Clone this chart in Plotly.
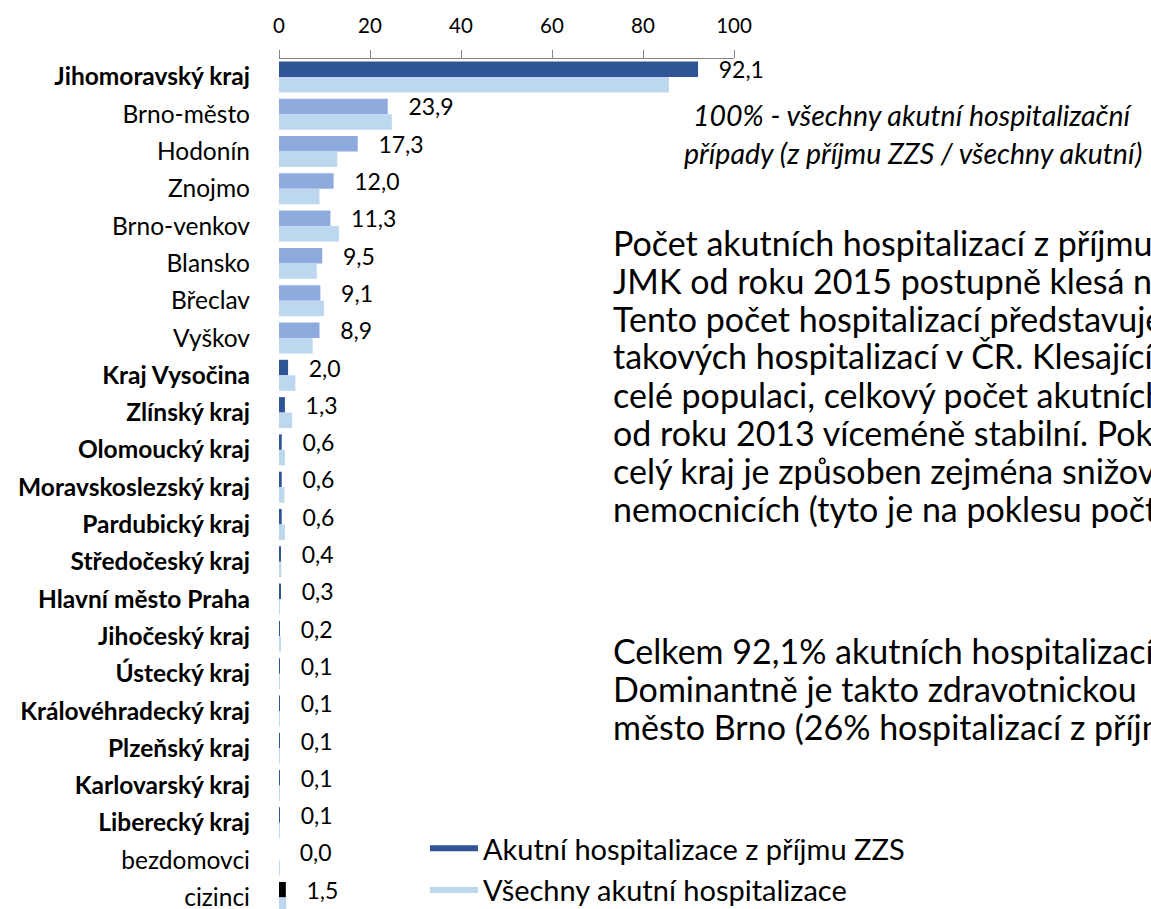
import plotly.graph_objects as go

# Regions / districts (top to bottom)
categories = [
    "Jihomoravský kraj", "Brno-město", "Hodonín", "Znojmo", "Brno-venkov",
    "Blansko", "Břeclav", "Vyškov", "Kraj Vysočina", "Zlínský kraj",
    "Olomoucký kraj", "Moravskoslezský kraj", "Pardubický kraj",
    "Středočeský kraj", "Hlavní město Praha", "Jihočeský kraj",
    "Ústecký kraj", "Královéhradecký kraj", "Plzeňský kraj",
    "Karlovarský kraj", "Liberecký kraj", "bezdomovci", "cizinci",
]
# group: "kraj" = region (bold), "okres" = JMK district, "other" = other groups
groups = [
    "kraj", "okres", "okres", "okres", "okres", "okres", "okres", "okres",
    "kraj", "kraj", "kraj", "kraj", "kraj", "kraj", "kraj", "kraj",
    "kraj", "kraj", "kraj", "kraj", "kraj", "other", "foreign",
]
# % of acute hospitalisations admitted via emergency medical service (ZZS)
zzs_values = [92.1, 23.9, 17.3, 12.0, 11.3, 9.5, 9.1, 8.9, 2.0, 1.3,
              0.6, 0.6, 0.6, 0.4, 0.3, 0.2, 0.1, 0.1, 0.1, 0.1, 0.1, 0.0, 1.5]
# % of all acute hospitalisations
all_values = [85.7, 24.8, 12.8, 8.9, 13.2, 8.3, 9.9, 7.4, 3.6, 2.9,
              1.3, 1.2, 1.3, 0.5, 0.2, 0.4, 0.2, 0.2, 0.1, 0.1, 0.1, 0.1, 1.6]
x_ticks = [0, 20, 40, 60, 80, 100]

FONT = "Lato, 'Open Sans', sans-serif"
DARK = "#2F5597"
MID = "#8FAADC"
LIGHT = "#BDD7EE"

group_colors = {"kraj": DARK, "okres": MID, "other": MID, "foreign": "#000000"}
zzs_colors = [group_colors[g] for g in groups]
tick_text = [f"<b>{c}</b>" if g == "kraj" else c for c, g in zip(categories, groups)]
labels = ["\u00a0\u00a0\u00a0" + f"{v:.1f}".replace(".", ",") for v in zzs_values]

fig = go.Figure()
fig.add_trace(go.Bar(
    y=categories, x=zzs_values, orientation="h",
    marker=dict(color=zzs_colors, line=dict(width=0)),
    text=labels, textposition="outside", constraintext="none",
    textfont=dict(family=FONT, size=23, color="#000000"),
    cliponaxis=False, showlegend=False, hoverinfo="skip",
))
fig.add_trace(go.Bar(
    y=categories, x=all_values, orientation="h",
    marker=dict(color=LIGHT, line=dict(width=0)),
    showlegend=False, hoverinfo="skip",
))
# legend entries drawn as thick lines
fig.add_trace(go.Scatter(x=[None], y=[None], mode="lines",
                         line=dict(color=DARK, width=6),
                         name="Akutní hospitalizace z příjmu ZZS", legendgroup="a"))
fig.add_trace(go.Scatter(x=[None], y=[None], mode="lines",
                         line=dict(color=LIGHT, width=6),
                         name="Všechny akutní hospitalizace", legendgroup="b"))

W, H = 1151, 909
L, R, T, B = 279, 417, 59, 0
pw, ph = W - L - R, H - T - B


def px(x):
    return (x - L) / pw


def py(y):
    return (H - B - y) / ph


annotations = []
for txt, y in [("100% - všechny akutní hospitalizační", 115),
               ("případy (z příjmu ZZS / všechny akutní)", 153)]:
    annotations.append(dict(text=f"<i>{txt}</i>", x=px(913), y=py(y),
                            xref="paper", yref="paper", xanchor="center",
                            yanchor="middle", showarrow=False,
                            font=dict(family=FONT, size=28.5, color="#000000")))

paragraph = [
    ("Počet akutních hospitalizací z příjmu", 242),
    ("JMK od roku 2015 postupně klesá na", 280),
    ("Tento počet hospitalizací představuje", 318),
    ("takových hospitalizací v ČR. Klesající", 356),
    ("celé populaci, celkový počet akutních", 394),
    ("od roku 2013 víceméně stabilní. Pokles", 432),
    ("celý kraj je způsoben zejména snižováním", 470),
    ("nemocnicích (tyto je na poklesu počtu", 508),
    ("Celkem 92,1% akutních hospitalizací", 650),
    ("Dominantně je takto zdravotnickou", 688),
    ("město Brno (26% hospitalizací z příjmu", 726),
]
for txt, y in paragraph:
    annotations.append(dict(text=txt, x=px(611), y=py(y), xref="paper",
                            yref="paper", xanchor="left", yanchor="middle",
                            showarrow=False,
                            font=dict(family=FONT, size=34, color="#000000")))

fig.update_layout(
    width=W, height=H,
    margin=dict(l=L, r=R, t=T, b=B, pad=0, autoexpand=False),
    paper_bgcolor="white", plot_bgcolor="white",
    barmode="group", bargap=0.17, bargroupgap=0.0,
    font=dict(family=FONT, color="#000000"),
    xaxis=dict(side="top", range=[0, 100], tickvals=x_ticks,
               ticks="outside", ticklen=8, tickcolor="#868686",
               showline=True, linecolor="#868686", linewidth=1,
               showgrid=False, zeroline=False, ticklabelstandoff=9,
               tickfont=dict(family=FONT, size=20.5, color="#000000")),
    yaxis=dict(type="category", categoryorder="array", categoryarray=categories,
               tickvals=categories, ticktext=tick_text,
               range=[22.31, -0.48], showgrid=False, zeroline=False,
               showline=False, ticks="", ticklabelstandoff=28,
               tickfont=dict(family=FONT, size=24.5, color="#000000")),
    legend=dict(x=px(425), y=py(823), xanchor="left", yanchor="top",
                bgcolor="rgba(0,0,0,0)", itemwidth=48, tracegroupgap=1,
                font=dict(family=FONT, size=29, color="#000000")),
    annotations=annotations,
)

fig.write_html("out.html")
